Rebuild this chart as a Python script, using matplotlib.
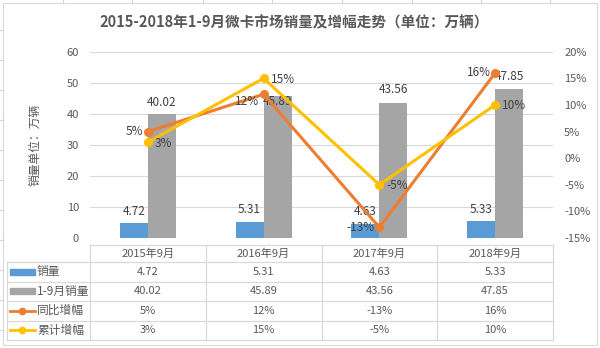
import matplotlib
matplotlib.use("Agg")
import matplotlib.pyplot as plt
from matplotlib.patches import Rectangle

plt.rcParams['font.family'] = ['Noto Sans CJK SC', 'DejaVu Sans']

categories = ["2015年9月", "2016年9月", "2017年9月", "2018年9月"]
sales = [4.72, 5.31, 4.63, 5.33]
sales_ytd = [40.02, 45.89, 43.56, 47.85]
yoy = [5, 12, -13, 16]
cum = [3, 15, -5, 10]
series_names = ["销量", "1-9月销量", "同比增幅", "累计增幅"]
title = "2015-2018年1-9月微卡市场销量及增幅走势（单位：万辆）"
ylabel = "销量单位：万辆"

C_BLUE = "#5B9BD5"
C_GREY = "#A5A5A5"
C_ORANGE = "#ED7D31"
C_YELLOW = "#FFC000"
TXT = "#595959"
LBL = "#404040"
GRID = "#D9D9D9"

W, H = 600, 348
fig = plt.figure(figsize=(W / 100, H / 100), dpi=100)

# plot area in pixels
x0, x1 = 90, 553
y_top, y_bot = 51.7, 238
ax = fig.add_axes([x0 / W, 1 - y_bot / H, (x1 - x0) / W, (y_bot - y_top) / H])
ax2 = ax.twinx()
px = 60 / (y_bot - y_top)          # data units per pixel, left axis
px2 = 35 / (y_bot - y_top)         # data units per pixel, right axis

n = len(categories)
xs = list(range(n))
bw = 0.242
ax.bar([x - bw / 2 for x in xs], sales, width=bw, color=C_BLUE, zorder=2)
ax.bar([x + bw / 2 for x in xs], sales_ytd, width=bw, color=C_GREY, zorder=2)
ax.set_xlim(-0.5, n - 0.5)
ax.set_ylim(0, 60)
ax.set_yticks(range(0, 61, 10))
ax.grid(axis='y', color=GRID, linewidth=0.8, zorder=0)
ax.set_axisbelow(True)
for s in ax.spines.values():
    s.set_visible(False)
for s in ax2.spines.values():
    s.set_visible(False)
ax.tick_params(axis='both', length=0, labelsize=8, labelcolor=TXT, pad=8)
ax.set_xticks([])
for x, v in zip(xs, sales):
    ax.text(x - bw / 2, v + 12 * px, f"{v:.2f}", ha='center', va='center', fontsize=8.5, color=LBL)
ytd_off = [11, -6, 13, 13]   # label offsets in pixels (as placed in the original)
for x, v, o in zip(xs, sales_ytd, ytd_off):
    ax.text(x + bw / 2, v + o * px, f"{v:.2f}", ha='center', va='center', fontsize=8.5, color=LBL, zorder=3)

ax2.set_ylim(-15, 20)
ax2.set_yticks(range(-15, 21, 5))
ax2.set_yticklabels([f"{t}%" for t in range(-15, 21, 5)])
ax2.tick_params(axis='y', length=0, labelsize=8, labelcolor=TXT, pad=8)
ax2.plot(xs, yoy, color=C_ORANGE, lw=2.2, marker='o', ms=5.5, zorder=4)
ax2.plot(xs, cum, color=C_YELLOW, lw=2.2, marker='o', ms=5.5, zorder=5)
yoy_off = [0, -7, 0, 0]
for x, v, o in zip(xs, yoy, yoy_off):
    ax2.text(x - 0.04, v + o * px2, f"{v}%", ha='right', va='center', fontsize=8.5, color=LBL, zorder=6)
for x, v in zip(xs, cum):
    ax2.text(x + 0.06, v - 1 * px2, f"{v}%", ha='left', va='center', fontsize=8.5, color=LBL, zorder=6)

ax.set_ylabel(ylabel, fontsize=8.5, color=TXT, labelpad=18)

fig.text(294 / W, 1 - 22 / H, title, ha='center', va='center', fontsize=10.5,
         fontweight='bold', color=TXT)

# overlay for table and frame
ov = fig.add_axes([0, 0, 1, 1])
ov.set_xlim(0, W)
ov.set_ylim(H, 0)
ov.axis('off')
ov.patch.set_alpha(0)

# spreadsheet cell lines outside chart and chart frame
for xv in [63, 132, 203, 272, 342, 412, 481, 550]:
    ov.plot([xv, xv], [0, 3], color="#D4D4D4", lw=0.8)
for yv in [30, 60, 90, 120, 150, 180, 210, 240, 270, 300, 330]:
    ov.plot([0, 3], [yv, yv], color="#D4D4D4", lw=0.8)
ov.add_patch(Rectangle((3, 3), 594, 342, fill=False, edgecolor="#D9D9D9", lw=0.8))

col_w = (x1 - x0) / n
row_y = [245, 262, 281.5, 301, 320.5, 340]
tl = "#D9D9D9"
lw = 0.9
ov.plot([x0, x1], [row_y[0], row_y[0]], color=tl, lw=lw)
for i in range(n + 1):
    ov.plot([x0 + i * col_w] * 2, [row_y[0], row_y[-1]], color=tl, lw=lw)
tx_left = 7
for y in row_y[1:]:
    ov.plot([tx_left, x1], [y, y], color=tl, lw=lw)
ov.plot([tx_left, tx_left], [row_y[1], row_y[-1]], color=tl, lw=lw)

for i, c in enumerate(categories):
    ov.text(x0 + (i + 0.5) * col_w, (row_y[0] + row_y[1]) / 2, c, ha='center', va='center',
            fontsize=8, color=TXT)

rows = [
    [f"{v:.2f}" for v in sales],
    [f"{v:.2f}" for v in sales_ytd],
    [f"{v}%" for v in yoy],
    [f"{v}%" for v in cum],
]
for r, vals in enumerate(rows):
    yc = (row_y[r + 1] + row_y[r + 2]) / 2
    for i, t in enumerate(vals):
        ov.text(x0 + (i + 0.5) * col_w, yc, t, ha='center', va='center', fontsize=8, color=TXT)
    if r < 2:
        ov.add_patch(Rectangle((9.5, yc - 3), 25, 6, color=[C_BLUE, C_GREY][r]))
    else:
        col = [C_ORANGE, C_YELLOW][r - 2]
        ov.plot([9.5, 34.5], [yc, yc], color=col, lw=2)
        ov.plot([22], [yc], marker='o', ms=4.5, color=col)
    ov.text(37, yc, series_names[r], ha='left', va='center', fontsize=8.5, color=TXT)

fig.savefig("out.png", dpi=100)
